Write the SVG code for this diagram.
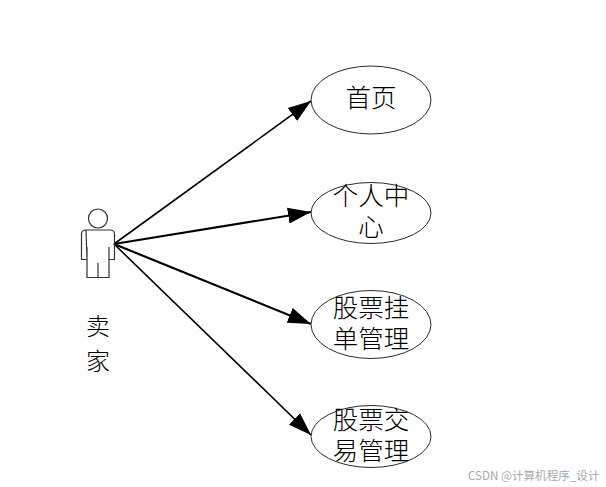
<svg xmlns="http://www.w3.org/2000/svg" width="606" height="487" viewBox="0 0 606 487">
<style>
.n{fill:#fff;stroke:#2b2b2b;stroke-width:1}
.t{font-family:"Noto Sans CJK SC","Liberation Serif",serif;font-weight:300;font-size:25.5px;fill:#000;text-anchor:middle}
.a{font-size:24px}
.c{fill:none;stroke:#000;stroke-linecap:butt}
.p{fill:none;stroke:#333;stroke-width:1.2}
.w{font-family:"Noto Sans CJK SC","Liberation Sans",sans-serif;font-size:11.6px;fill:#a8a8a8}
</style>
<defs>
<marker id="arr" markerUnits="userSpaceOnUse" markerWidth="26" markerHeight="20" refX="23" refY="9" orient="auto">
<path d="M0 1L23 9L0 17Z" fill="#000"/>
</marker>
</defs>
<rect width="606" height="487" fill="#fff"/>
<g id="connectors">
<path class="c" stroke-width="1.6" marker-end="url(#arr)" d="M114 244L311 101"/>
<path class="c" stroke-width="2.2" marker-end="url(#arr)" d="M114 244L311 212"/>
<path class="c" stroke-width="2.2" marker-end="url(#arr)" d="M114 244L311 324"/>
<path class="c" stroke-width="1.6" marker-end="url(#arr)" d="M114 244L311 435"/>
</g>
<g id="actor">
<circle class="p" cx="98" cy="218.500" r="9.500"/>
<path class="p" d="M86 230H110Q114.500 230 114.500 234V259.500H109V247M109 259.500V277.500H87V247M87 259.500H81.500V234Q81.500 230 86 230ZM98 263V277.500"/>
<text class="t a" x="98"><tspan x="98" y="335">卖</tspan><tspan x="98" y="370">家</tspan></text>
</g>
<g id="node1">
<ellipse class="n" cx="371" cy="100" rx="60" ry="34"/>
<text class="t" x="371" y="107">首页</text>
</g>
<g id="node2">
<ellipse class="n" cx="371" cy="213" rx="60" ry="30.500"/>
<text class="t"><tspan x="371" y="205">个人中</tspan><tspan x="371" y="236">心</tspan></text>
</g>
<g id="node3">
<ellipse class="n" cx="371" cy="324.500" rx="60" ry="34"/>
<text class="t"><tspan x="371" y="317">股票挂</tspan><tspan x="371" y="348">单管理</tspan></text>
</g>
<g id="node4">
<ellipse class="n" cx="371" cy="436.500" rx="60" ry="31"/>
<text class="t"><tspan x="371" y="429">股票交</tspan><tspan x="371" y="460">易管理</tspan></text>
</g>
<text class="w" x="468" y="480">CSDN @计算机程序_设计</text>
</svg>
